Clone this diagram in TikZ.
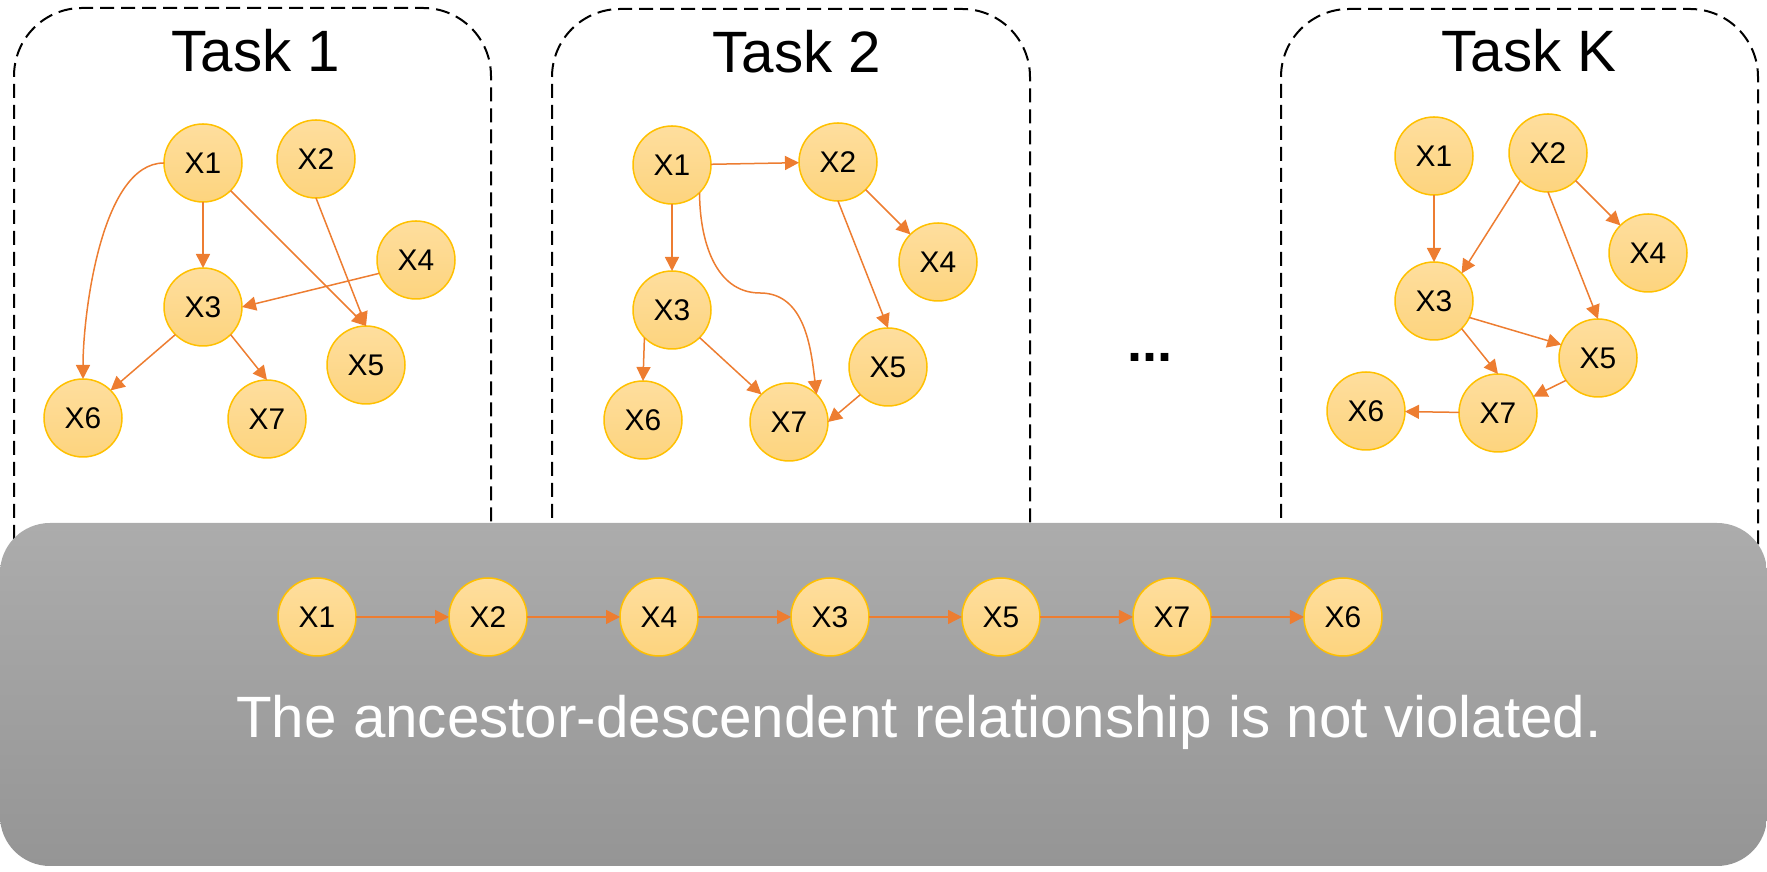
\documentclass[tikz,border=0pt]{standalone}
\usepackage{fontspec}
\setmainfont{Liberation Sans}
\usetikzlibrary{positioning,arrows.meta}
\definecolor{edgeor}{HTML}{ED7D31}
\definecolor{nodeline}{HTML}{FFC000}
\definecolor{nodetop}{HTML}{FEDE9E}
\definecolor{nodebot}{HTML}{FDD47E}
\definecolor{bartop}{HTML}{ACACAC}
\definecolor{barbot}{HTML}{959595}
\tikzset{
	var/.style={circle,draw=nodeline,line width=0.15mm,top color=nodetop,bottom color=nodebot,minimum size=7.8mm,inner sep=0pt,outer sep=0pt,font=\fontsize{8.5}{10}\selectfont},
	dep/.style={draw=edgeor,line width=0.15mm,-{Triangle[length=1.4mm,width=1.4mm]}},
	taskbox/.style={draw,dash pattern=on 1.4mm off 0.7mm,line width=0.2mm,rounded corners=6.8mm},
	title/.style={font=\fontsize{16.6}{20}\selectfont,anchor=base}
}

\begin{document}
\begin{tikzpicture}[x=0.1mm,y=-0.1mm]
		\useasboundingbox (0,0) rectangle (1767,872);
		\draw[taskbox] (14,560) |- (252,8) -| (491,560);
		\draw[taskbox] (552,560) |- (791,9) -| (1030,560);
		\draw[taskbox] (1281,560) |- (1520,9) -| (1758,560);
		\node[title] (ta) at (256,72) {Task 1};
		\node[title] (tb) at (797,73) {Task 2};
		\node[title] (tk) at (1529,72) {Task K};
		\node[anchor=base,font=\fontsize{15.4}{18}\selectfont\bfseries] (dots) at (1150,362) {...};

		\node[var] (a1) at (203,163) {X1};
		\node[var] (a2) at (316,159) {X2};
		\node[var] (a3) at (203,307) {X3};
		\node[var] (a4) at (416,260) {X4};
		\node[var] (a5) at (366,365) {X5};
		\node[var] (a6) at (83,418) {X6};
		\node[var] (a7) at (267,419) {X7};
		\draw[dep] (a1.west) to[out=180,in=90,looseness=0.7] (a6.north);
		\draw[dep] (a1) -- (a3);
		\draw[dep] (a1.south east) -- (a5.north);
		\draw[dep] (a2.south) -- (a5.north);
		\draw[dep] (a4.200) -- (a3.east);
		\draw[dep] (a3.south west) -- (a6.north east);
		\draw[dep] (a3.south east) -- (a7.north);

		\node[var] (b1) at (672,165) {X1};
		\node[var] (b2) at (838,162) {X2};
		\node[var] (b3) at (672,310) {X3};
		\node[var] (b4) at (938,262) {X4};
		\node[var] (b5) at (888,367) {X5};
		\node[var] (b6) at (643,420) {X6};
		\node[var] (b7) at (789,422) {X7};
		\coordinate (b17) at (760,293);
		\draw[dep] (b1) -- (b2);
		\draw[dep] (b1) -- (b3);
		\draw[dep] (b1.south east) to[out=-90,in=180] (b17) to[out=0,in=97] (b7.north east);
		\draw[dep] (b2.south east) -- (b4.north west);
		\draw[dep] (b2.south) -- (b5.north);
		\draw[dep] (b3.south west) -- (b6.north);
		\draw[dep] (b3.south east) -- (b7.north west);
		\draw[dep] (b5.south west) -- (b7.east);

		\node[var] (k1) at (1434,156) {X1};
		\node[var] (k2) at (1548,153) {X2};
		\node[var] (k3) at (1434,301) {X3};
		\node[var] (k4) at (1648,253) {X4};
		\node[var] (k5) at (1598,358) {X5};
		\node[var] (k6) at (1366,411) {X6};
		\node[var] (k7) at (1498,413) {X7};
		\draw[dep] (k1) -- (k3);
		\draw[dep] (k2.south west) -- (k3.north east);
		\draw[dep] (k2.south) -- (k5.north);
		\draw[dep] (k2.south east) -- (k4.north west);
		\draw[dep] (k3.-25) -- (k5.160);
		\draw[dep] (k3.south east) -- (k7.north);
		\draw[dep] (k5.215) -- (k7.25);
		\draw[dep] (k7) -- (k6);

		\shade[top color=bartop,bottom color=barbot,rounded corners=5mm] (0,523) rectangle (1767,866);
		\node[var] (c1) at (317,617) {X1};
		\node[var,right=9.3mm of c1] (c2) {X2};
		\node[var,right=9.3mm of c2] (c3) {X4};
		\node[var,right=9.3mm of c3] (c4) {X3};
		\node[var,right=9.3mm of c4] (c5) {X5};
		\node[var,right=9.3mm of c5] (c6) {X7};
		\node[var,right=9.3mm of c6] (c7) {X6};
		\foreach \i/\j in {1/2,2/3,3/4,4/5,5/6,6/7}
			\draw[dep] (c\i) -- (c\j);
		\node[title,text=white] (cap) at (919,738) {The ancestor-descendent relationship is not violated.};
	\end{tikzpicture}
\end{document}
